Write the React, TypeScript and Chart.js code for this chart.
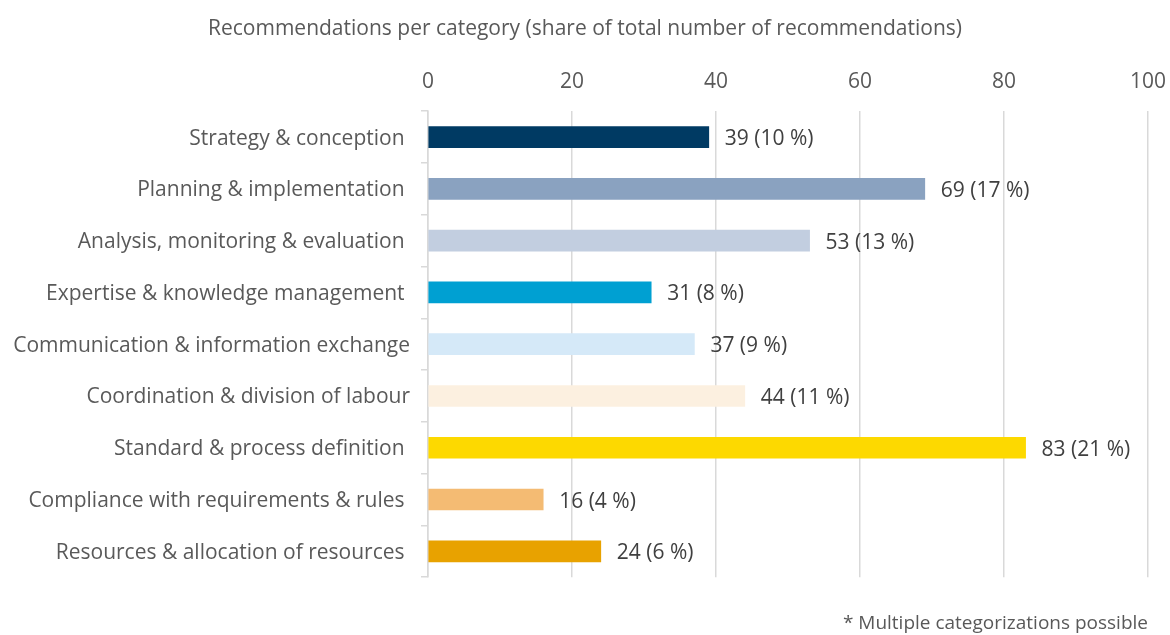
import React, { useEffect, useRef } from "react";
import { Chart, registerables } from "chart.js";

Chart.register(...registerables);

const categories = [
  "Strategy & conception ",
  "Planning & implementation ",
  "Analysis, monitoring & evaluation ",
  "Expertise & knowledge management ",
  "Communication & information exchange",
  "Coordination & division of labour",
  "Standard & process definition ",
  "Compliance with requirements & rules ",
  "Resources & allocation of resources ",
];
const counts = [39, 69, 53, 31, 37, 44, 83, 16, 24];
const shares = [10, 17, 13, 8, 9, 11, 21, 4, 6];
const barColors = [
  "#003a63",
  "#8aa2c0",
  "#c2cee0",
  "#00a0d2",
  "#d5e9f8",
  "#fcf0e0",
  "#fdd900",
  "#f4bb73",
  "#e8a200",
];
const titleText = "Recommendations per category (share of total number of recommendations)";
const footnoteText = "* Multiple categorizations possible";

const FONT = "'Open Sans', Lato, sans-serif";

const valueLabels = {
  id: "valueLabels",
  afterLayout(chart: any) {
    // let the category labels extend into the left padding without clipping
    chart.scales.y.left = 0;
  },
  afterDatasetsDraw(chart: any) {
    const ctx = chart.ctx;
    const meta = chart.getDatasetMeta(0);
    ctx.save();
    ctx.font = `21px ${FONT}`;
    ctx.fillStyle = "#404040";
    ctx.textAlign = "left";
    ctx.textBaseline = "middle";
    meta.data.forEach((bar: any, i: number) => {
      ctx.fillText(`${counts[i]} (${shares[i]} %)`, bar.x + 16, bar.y + 2);
    });
    ctx.restore();
  },
};

export default function App() {
  const ref = useRef<HTMLCanvasElement | null>(null);
  useEffect(() => {
    if (!ref.current) return;
    const chart = new Chart(ref.current, {
      type: "bar",
      data: {
        labels: categories,
        datasets: [
          {
            data: counts,
            backgroundColor: barColors,
            barThickness: 21,
          },
        ],
      },
      options: {
        indexAxis: "y",
        animation: false,
        responsive: false,
        maintainAspectRatio: false,
        layout: { padding: { left: 22, right: 22, top: 0, bottom: 0 } },
        plugins: {
          legend: { display: false },
          tooltip: { enabled: false },
          title: {
            display: true,
            text: titleText,
            color: "#595959",
            font: { family: FONT, size: 21, weight: "normal" },
            padding: { top: 16, bottom: 3 },
          },
          subtitle: {
            display: true,
            text: footnoteText,
            position: "bottom",
            align: "end",
            color: "#595959",
            font: { family: FONT, size: 19, weight: "normal" },
            padding: { top: 35, bottom: 0 },
          },
        },
        scales: {
          x: {
            position: "top",
            min: 0,
            max: 100,
            ticks: {
              stepSize: 20,
              color: "#595959",
              font: { family: FONT, size: 21 },
              padding: 17,
            },
            grid: { color: "#d9d9d9", drawTicks: false, lineWidth: 1.5 },
            border: { display: false },
            afterFit(scale: any) {
              scale.height = 67;
              scale.paddingLeft = 0;
              scale.paddingRight = 0;
            },
          },
          y: {
            ticks: {
              color: "#595959",
              font: { family: FONT, size: 21 },
              padding: 11,
              labelOffset: 1.5,
            },
            grid: {
              drawOnChartArea: false,
              drawTicks: true,
              tickLength: 7,
              color: "#d9d9d9",
              lineWidth: 1.5,
            },
            border: { display: true, color: "#d9d9d9", width: 1.5 },
            afterFit(scale: any) {
              scale.width = 406;
              scale.paddingTop = 0;
              scale.paddingBottom = 0;
            },
          },
        },
      },
      plugins: [valueLabels],
    });
    return () => chart.destroy();
  }, []);
  return (
    <div style={{ position: "absolute", left: 0, top: 0, width: 1170, height: 635, background: "#fff" }}>
      <canvas ref={ref} width={1170} height={635} style={{ width: 1170, height: 635 }} />
    </div>
  );
}
